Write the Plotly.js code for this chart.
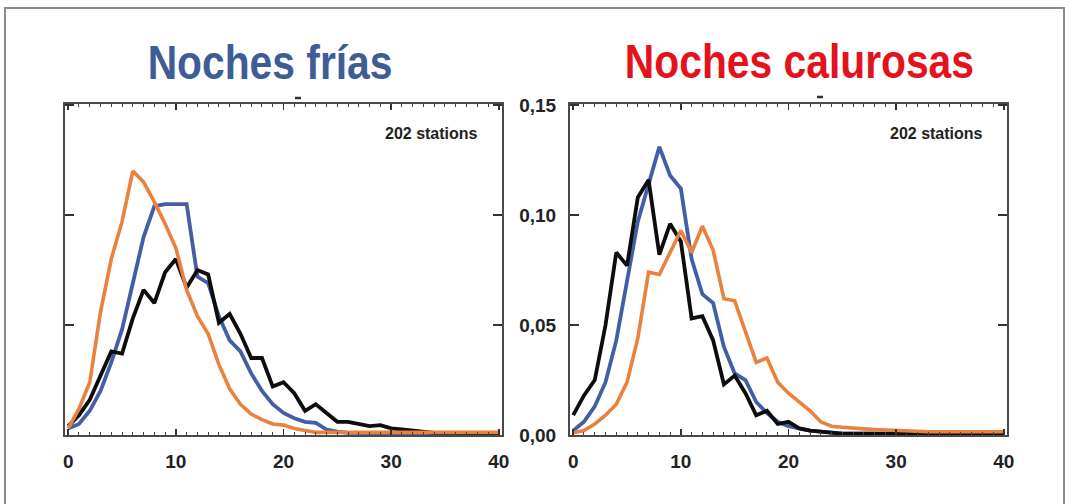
<!DOCTYPE html>
<html>
<head>
<meta charset="utf-8">
<script src="https://cdn.plot.ly/plotly-3.0.1.min.js"></script>
<style>
  html, body { margin: 0; padding: 0; background: #ffffff; }
  #chart { width: 1070px; height: 504px; }
</style>
</head>
<body>
<div id="chart"></div>
<script>
// Number of nights (x) shared by both panels
const nights = [0,1,2,3,4,5,6,7,8,9,10,11,12,13,14,15,16,17,18,19,20,
                21,22,23,24,25,26,27,28,29,30,31,32,33,34,35,36,37,38,39,40];

// Noches frías
const friasNegro = [0.004,0.009,0.016,0.027,0.038,0.037,0.053,0.066,0.060,0.074,0.080,
                    0.067,0.075,0.073,0.051,0.055,0.046,0.035,0.035,0.022,0.024,
                    0.019,0.011,0.014,0.010,0.006,0.006,0.005,0.004,0.0045,0.003,
                    0.0025,0.002,0.0015,0.001,0.001,0.0008,0.0008,0.0008,0.0008,0.0008];
const friasAzul  = [0.003,0.005,0.011,0.020,0.033,0.048,0.069,0.090,0.104,0.105,0.105,
                    0.105,0.072,0.069,0.054,0.043,0.038,0.028,0.020,0.014,0.010,
                    0.0076,0.006,0.0055,0.0025,0.0015,0.001,0.0008,0.0008,0.0008,0.0008,
                    0.0008,0.0008,0.0008,0.0008,0.0008,0.0008,0.0008,0.0008,0.0008,0.0008];
const friasNaranja = [0.003,0.012,0.024,0.056,0.080,0.097,0.120,0.115,0.106,0.096,0.085,
                      0.066,0.054,0.046,0.032,0.021,0.014,0.0095,0.007,0.005,0.0045,
                      0.003,0.002,0.0012,0.0012,0.0012,0.0012,0.0012,0.0012,0.0012,0.0012,
                      0.0012,0.0012,0.0012,0.0012,0.0012,0.0012,0.0012,0.0012,0.0012,0.0012];

// Noches calurosas
const calurosasNegro = [0.009,0.018,0.025,0.050,0.083,0.077,0.108,0.116,0.082,0.096,0.088,
                        0.053,0.054,0.043,0.023,0.027,0.019,0.009,0.011,0.005,0.006,
                        0.003,0.002,0.0015,0.001,0.0006,0.0006,0.0006,0.0006,0.0006,0.0006,
                        0.0006,0.0006,0.0006,0.0006,0.0006,0.0006,0.0006,0.0006,0.0006,0.0006];
const calurosasAzul  = [0.002,0.006,0.013,0.024,0.043,0.070,0.097,0.114,0.131,0.118,0.112,
                        0.080,0.064,0.060,0.040,0.028,0.025,0.015,0.010,0.006,0.004,
                        0.003,0.002,0.0015,0.001,0.0006,0.0006,0.0006,0.0006,0.0006,0.0006,
                        0.0006,0.0006,0.0006,0.0006,0.0006,0.0006,0.0006,0.0006,0.0006,0.0006];
const calurosasNaranja = [0.001,0.002,0.005,0.009,0.014,0.024,0.044,0.074,0.073,0.083,0.093,
                          0.083,0.095,0.084,0.062,0.061,0.047,0.033,0.035,0.024,0.019,
                          0.015,0.011,0.006,0.004,0.0035,0.003,0.0028,0.0025,0.0023,0.002,
                          0.0015,0.0015,0.0015,0.0015,0.0015,0.0015,0.0015,0.0015,0.0015,0.0015];

const panelTitles = ['Noches frías', 'Noches calurosas'];
const stationsLabel = '202 stations';

const BLACK = '#0d0d0d', BLUE = '#445ea6', ORANGE = '#e9823c';

function line(y, color, xa, ya, width) {
  return { x: nights, y: y, type: 'scatter', mode: 'lines', xaxis: xa, yaxis: ya,
           line: { color: color, width: width, shape: 'linear' }, hoverinfo: 'skip' };
}

const data = [
  line(friasAzul, BLUE, 'x', 'y', 3.8),
  line(friasNegro, BLACK, 'x', 'y', 3.8),
  line(friasNaranja, ORANGE, 'x', 'y', 3.6),
  line(calurosasAzul, BLUE, 'x2', 'y2', 3.8),
  line(calurosasNegro, BLACK, 'x2', 'y2', 3.8),
  line(calurosasNaranja, ORANGE, 'x2', 'y2', 3.6)
];

const W = 1070, H = 504;
const px = v => v / W;
const py = v => 1 - v / H;

const tickFont = { family: 'Liberation Sans, Arial, sans-serif', size: 19, color: '#222', weight: 'bold' };
const titleFont = { family: 'Liberation Sans, Arial, sans-serif', size: 48, weight: 'bold' };

const xCommon = {
  range: [-0.3, 40.3], tickmode: 'linear', tick0: 0, dtick: 10,
  ticks: 'inside', ticklen: 6, tickwidth: 1.5, tickcolor: '#333',
  minor: { tickmode: 'linear', tick0: 0, dtick: 1, ticks: 'inside', ticklen: 3, tickwidth: 1, tickcolor: '#444' },
  showline: true, linecolor: '#4a4a4a', linewidth: 2, mirror: 'ticks',
  showgrid: false, zeroline: false, tickfont: tickFont, ticklabelstandoff: 8,
  fixedrange: true
};
const yCommon = {
  range: [0, 0.1505], tickmode: 'linear', tick0: 0, dtick: 0.05, tickformat: '.2f',
  ticks: 'inside', ticklen: 9, tickwidth: 1.5, tickcolor: '#333',
  showline: true, linecolor: '#4a4a4a', linewidth: 2, mirror: 'ticks',
  showgrid: false, zeroline: false, tickfont: tickFont, ticklabelstandoff: 8,
  domain: [py(435), py(104)], fixedrange: true
};

const layout = {
  width: W, height: H,
  margin: { l: 0, r: 0, t: 0, b: 0 },
  paper_bgcolor: '#ffffff', plot_bgcolor: '#ffffff',
  showlegend: false,
  separators: ',.',
  xaxis:  Object.assign({}, xCommon, { domain: [px(65), px(502)], anchor: 'y' }),
  yaxis:  Object.assign({}, yCommon, { anchor: 'x', showticklabels: false }),
  xaxis2: Object.assign({}, xCommon, { domain: [px(570), px(1007)], anchor: 'y2' }),
  yaxis2: Object.assign({}, yCommon, { anchor: 'x2', showticklabels: true }),
  annotations: [
    { text: panelTitles[0], xref: 'paper', yref: 'paper', x: px(270), y: py(62),
      xanchor: 'center', yanchor: 'middle', showarrow: false,
      font: Object.assign({}, titleFont, { color: '#3e5d96' }) },
    { text: panelTitles[1], xref: 'paper', yref: 'paper', x: px(799), y: py(61),
      xanchor: 'center', yanchor: 'middle', showarrow: false,
      font: Object.assign({}, titleFont, { color: '#e3121c' }) },
    { text: stationsLabel, xref: 'paper', yref: 'paper', x: px(480), y: py(134),
      xanchor: 'right', yanchor: 'middle', showarrow: false,
      font: { family: 'Liberation Sans, Arial, sans-serif', size: 16, color: '#222', weight: 'bold' } },
    { text: stationsLabel, xref: 'paper', yref: 'paper', x: px(985), y: py(134),
      xanchor: 'right', yanchor: 'middle', showarrow: false,
      font: { family: 'Liberation Sans, Arial, sans-serif', size: 16, color: '#222', weight: 'bold' } }
  ],
  shapes: [
    // outer frame of the figure
    { type: 'rect', xref: 'paper', yref: 'paper', x0: px(5), x1: px(1064), y0: -0.05, y1: py(8),
      line: { color: '#8c8c8c', width: 2 }, fillcolor: 'rgba(0,0,0,0)' },
    // small marks above the top axes
    { type: 'line', xref: 'paper', yref: 'paper', x0: px(295), x1: px(301), y0: py(98), y1: py(98),
      line: { color: '#333', width: 2.5 } },
    { type: 'line', xref: 'paper', yref: 'paper', x0: px(817), x1: px(823), y0: py(97), y1: py(97),
      line: { color: '#333', width: 2.5 } }
  ]
};

Plotly.newPlot('chart', data, layout, { staticPlot: true, displayModeBar: false }).then(gd => {
  // Narrow the two panel headings horizontally around their own centres
  const texts = gd.querySelectorAll('.annotation .annotation-text');
  [0, 1].forEach(i => {
    const t = texts[i];
    if (!t) return;
    const bb = t.getBBox();
    const cx = bb.x + bb.width / 2;
    const prev = t.getAttribute('transform') || '';
    t.setAttribute('transform', prev + ` translate(${cx},0) scale(0.85,1) translate(${-cx},0)`);
  });
});
</script>
</body>
</html>
